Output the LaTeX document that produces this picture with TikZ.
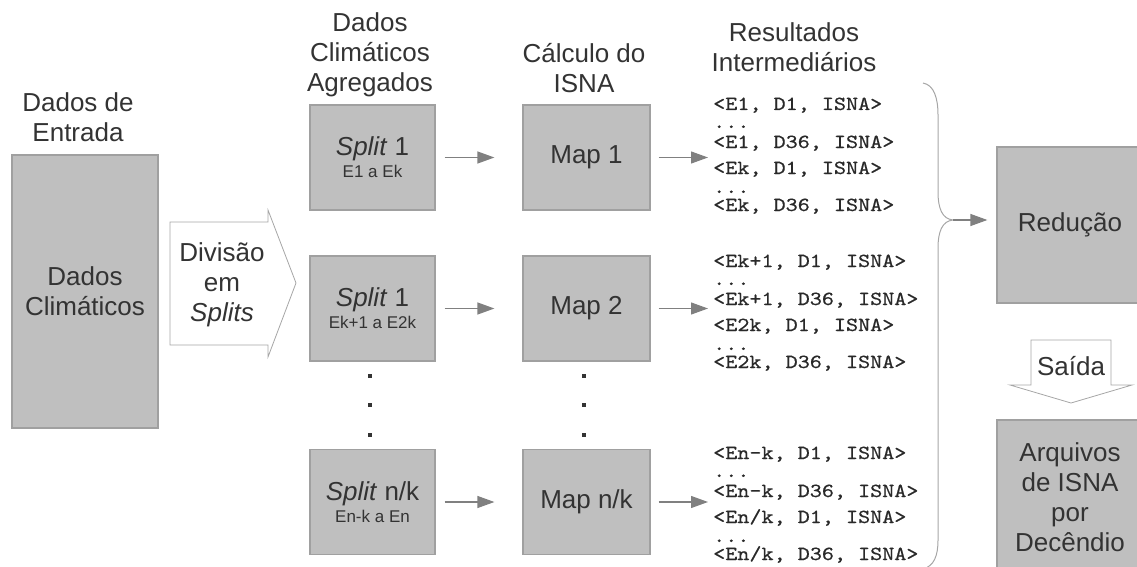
\documentclass[tikz,border=0pt]{standalone}
\usepackage{fontspec}
\setmainfont{Liberation Sans}
\newfontfamily\mono[Extension=.otf,FakeStretch=1.15,FakeBold=0.6]{lmmono10-regular}
\usetikzlibrary{arrows.meta}

\definecolor{texto}{HTML}{333333}
\definecolor{cinza}{HTML}{BFBFBF}
\definecolor{borda}{HTML}{A0A0A0}
\definecolor{seta}{HTML}{808080}
\definecolor{contorno}{HTML}{A6A6A6}

\newcommand{\rotulo}{\fontsize{26}{30}\selectfont}
\newcommand{\miudo}{\fontsize{17}{20}\selectfont}

\tikzset{
  caixa/.style={draw=borda, fill=cinza, line width=1.2pt, inner sep=0pt,
    align=center, text=texto, font=\rotulo},
  titulo/.style={align=center, text=texto, font=\rotulo},
  res/.style={anchor=base west, inner sep=0pt, text=texto!80!black,
    font=\mono\fontsize{20}{20}\selectfont},
  fluxo/.style={draw=seta, line width=1.2pt, -{Triangle[length=17pt,width=12pt]}},
  bloco/.style={draw=contorno, fill=white, line width=0.8pt},
}

% one block of intermediate pairs <Ei, Dj, ISNA>
\newcommand{\resultados}[4]{%
  \node[res] (#1-1) at (713,#2)     {<#3, D1, ISNA>};
  \node[res] (#1-2) at (713,#2+18)  {...};
  \node[res] (#1-3) at (713,#2+38)  {<#3, D36, ISNA>};
  \node[res] (#1-4) at (713,#2+64)  {<#4, D1, ISNA>};
  \node[res] (#1-5) at (713,#2+83)  {...};
  \node[res] (#1-6) at (713,#2+101) {<#4, D36, ISNA>};
}

\begin{document}
\begin{tikzpicture}[x=1pt, y=-1pt]
\clip (0,0) rectangle (1137,567);

% column titles
\node[titulo] (hEntrada) at (78,117.5) {Dados de\\Entrada};
\node[titulo] (hAgreg) at (370,55) {Dados\\Climáticos\\Agregados};
\node[titulo] (hCalc) at (584,68) {Cálculo do\\ISNA};
\node[titulo] (hRes) at (794,47) {Resultados\\Intermediários};

% input data
\node[caixa, minimum width=146, minimum height=273] (dados) at (85,291.5)
  {Dados\\Climáticos};

% split arrow
\draw[bloco] (170,222) -- (268,222) -- (268,210) -- (296,283) -- (268,357)
  -- (268,345) -- (170,345) -- cycle;
\node[titulo] (divisao) at (222,285) {Divisão\\em\\\textit{Splits}};

% splits
\node[caixa, minimum width=125, minimum height=105] (s1) at (372.5,157.5)
  {\textit{Split} 1\\[-8pt]\miudo E1 a Ek};
\node[caixa, minimum width=125, minimum height=105] (s2) at (372.5,308.5)
  {\textit{Split} 1\\[-8pt]\miudo Ek+1 a E2k};
\node[caixa, minimum width=125, minimum height=105] (s3) at (372.5,502)
  {\textit{Split} n/k\\[-8pt]\miudo En-k a En};

% maps
\node[caixa, minimum width=127, minimum height=105] (m1) at (586.5,157.5) {Map 1};
\node[caixa, minimum width=127, minimum height=105] (m2) at (586.5,308.5) {Map 2};
\node[caixa, minimum width=127, minimum height=105] (m3) at (586.5,502) {Map n/k};

\foreach \y in {376,405,435} {
  \fill[texto] (368,\y-2) rectangle (372,\y+2);
  \fill[texto] (582,\y-2) rectangle (586,\y+2);
}

% intermediate results
\resultados{r1}{110}{E1}{Ek}
\resultados{r2}{267}{Ek+1}{E2k}
\resultados{r3}{459}{En-k}{En/k}

\foreach \i in {1,2,3} {
  \draw[fluxo, shorten <=9pt, shorten >=28pt] (s\i) -- (m\i);
  \draw[fluxo, shorten <=8pt] (m\i) -- ([xshift=-5]m\i -| r\i-4.west);
}

% reduce
\node[caixa, minimum width=146, minimum height=156] (reducao) at (1070,225) {Redução};
\draw[contorno, line width=1pt] (923,83) .. controls (934,85) and (938,98) .. (938,115)
  -- (938,192) .. controls (938,208) and (942,219) .. (953,220)
  .. controls (942,221) and (938,232) .. (938,248)
  -- (938,540) .. controls (938,556) and (934,566) .. (923,569);
\coordinate (chave) at (953,220);
\draw[fluxo, shorten >=9pt] (chave) -- (chave -| reducao.west);

% output
\draw[bloco] (1031,340) -- (1111,340) -- (1111,385) -- (1132,385) -- (1071,403)
  -- (1010,385) -- (1031,385) -- cycle;
\node[titulo] (saida) at (1071,366) {Saída};
\node[caixa, minimum width=146, minimum height=155] (arquivos) at (1070,497.5)
  {Arquivos\\de ISNA\\por\\Decêndio};
\end{tikzpicture}
\end{document}
